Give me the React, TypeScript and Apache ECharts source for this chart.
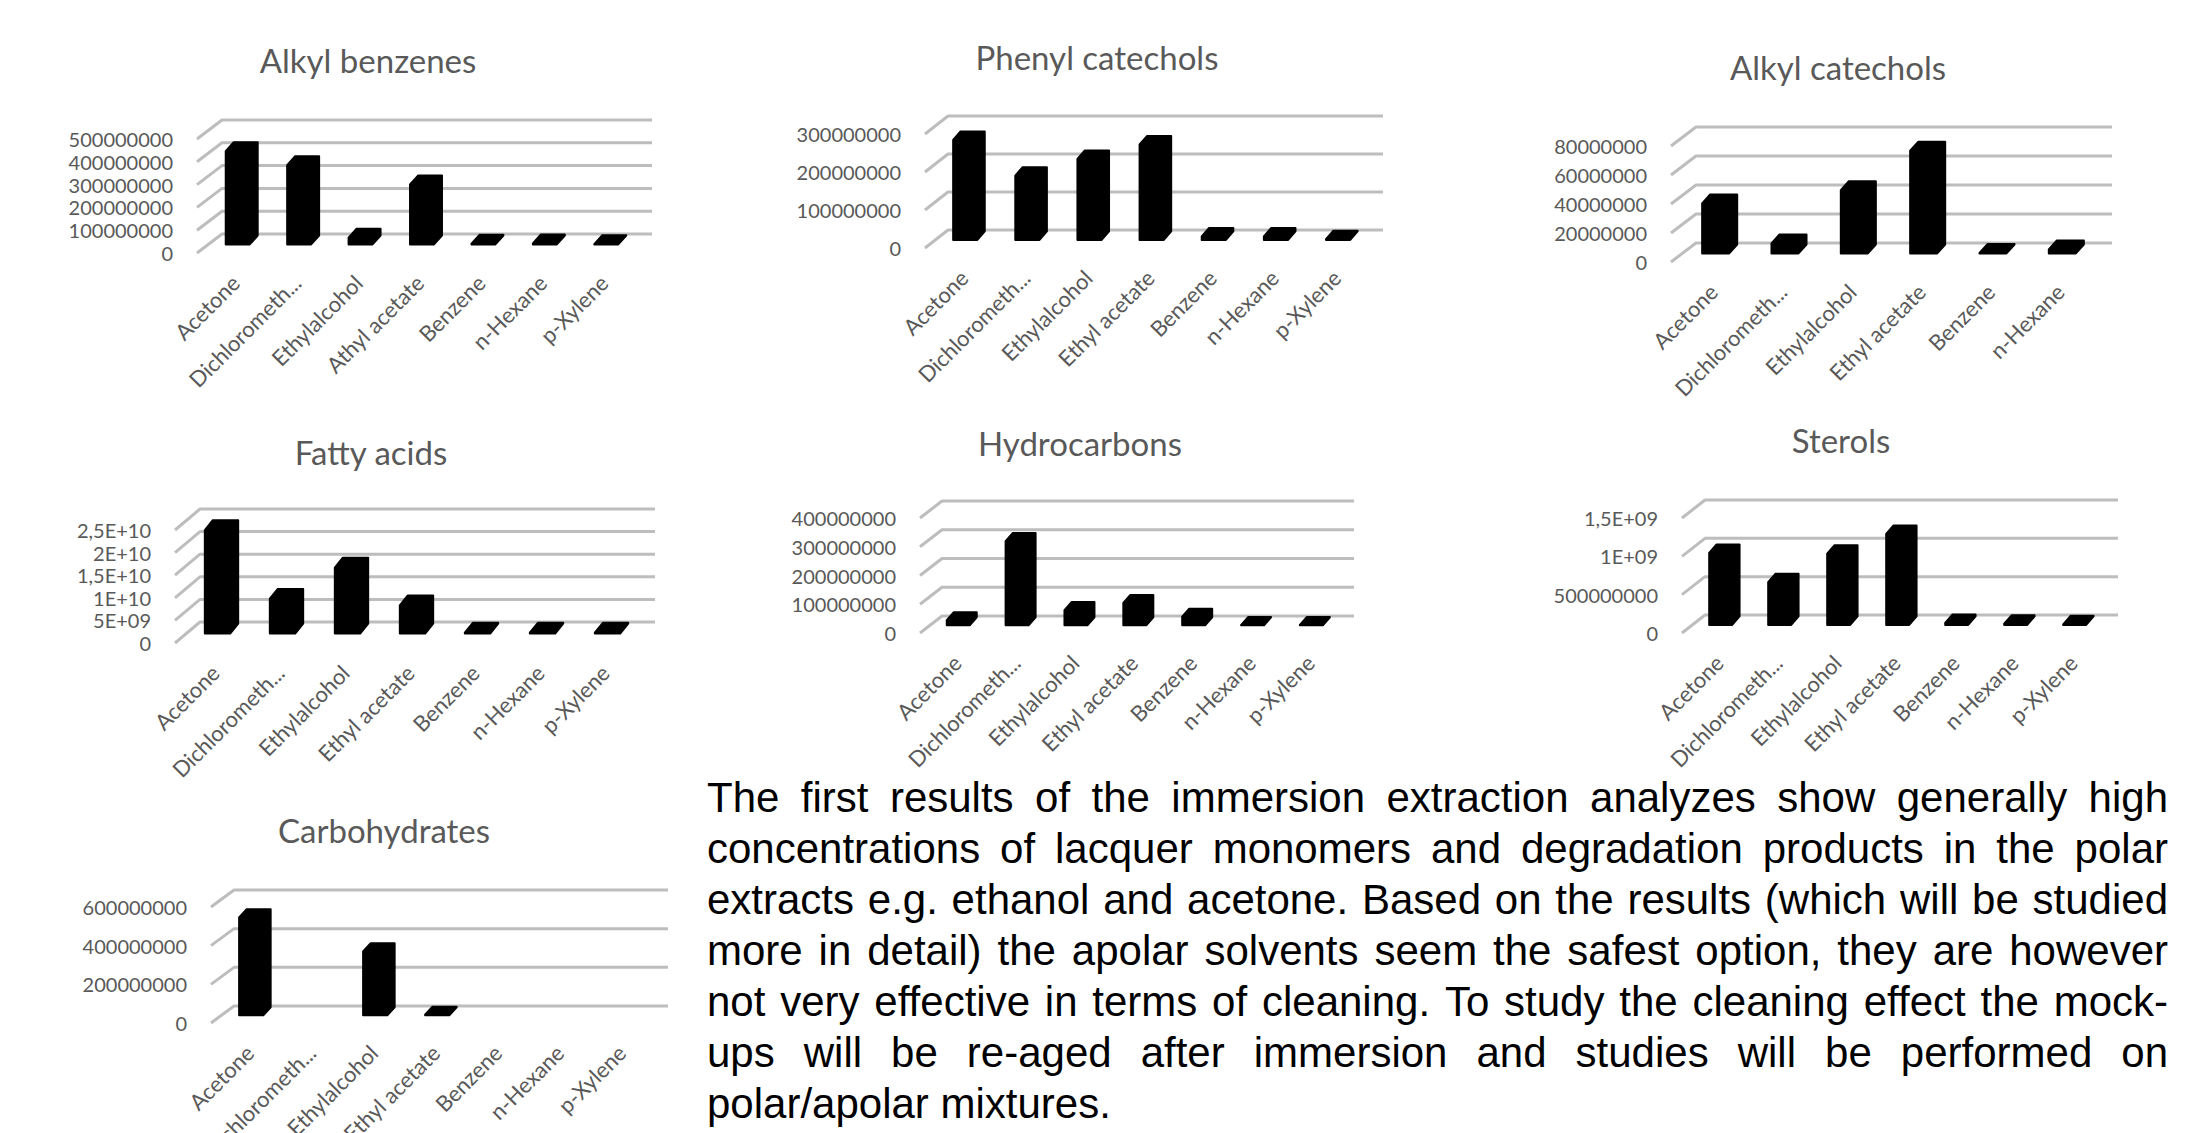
import React, { useEffect, useRef } from "react";
import * as echarts from "echarts";

// Solvent categories as printed under each panel
const solventsAlkylBenzenes = ["Acetone", "Dichlorometh...", "Ethylalcohol", "Athyl acetate", "Benzene", "n-Hexane", "p-Xylene"];
const solvents = ["Acetone", "Dichlorometh...", "Ethylalcohol", "Ethyl acetate", "Benzene", "n-Hexane", "p-Xylene"];
const solventsAlkylCatechols = ["Acetone", "Dichlorometh...", "Ethylalcohol", "Ethyl acetate", "Benzene", "n-Hexane"];

// Peak areas per compound class and solvent
const alkylBenzenes = [409e6, 348e6, 30e6, 263e6, 3e6, 5e6, 1e6];
const phenylCatechols = [263e6, 169e6, 213e6, 251e6, 9e6, 9e6, 2e6];
const alkylCatechols = [34.5e6, 6.9e6, 43.7e6, 70.8e6, 0.3e6, 2.8e6];
const fattyAcids = [2.29e10, 7.7e9, 1.46e10, 6.25e9, 2e8, 2e8, 2e8];
const hydrocarbons = [18e6, 293e6, 53e6, 78e6, 30e6, 1e6, 1.5e6];
const sterols = [939e6, 557e6, 930e6, 1187e6, 25e6, 15e6, 8e6];
const carbohydrates = [507e6, 0, 331e6, 3e6, 0, 0, 0];

// Value-axis tick labels
const ticksAlkylBenzenes = ["0", "100000000", "200000000", "300000000", "400000000", "500000000"];
const ticksPhenylCatechols = ["0", "100000000", "200000000", "300000000"];
const ticksAlkylCatechols = ["0", "20000000", "40000000", "60000000", "80000000"];
const ticksFattyAcids = ["0", "5E+09", "1E+10", "1,5E+10", "2E+10", "2,5E+10"];
const ticksHydrocarbons = ["0", "100000000", "200000000", "300000000", "400000000"];
const ticksSterols = ["0", "500000000", "1E+09", "1,5E+09"];
const ticksCarbohydrates = ["0", "200000000", "400000000", "600000000"];

// Accompanying paragraph, one entry per printed line
const paragraphLines = [
  "The first results of the immersion extraction analyzes show generally high",
  "concentrations of lacquer monomers and degradation products in the polar",
  "extracts e.g. ethanol and acetone. Based on the results (which will be studied",
  "more in detail) the apolar solvents seem the safest option, they are however",
  "not very effective in terms of cleaning. To study the cleaning effect the mock-",
  "ups will be re-aged after immersion and studies will be performed on",
  "polar/apolar mixtures.",
];

type Panel = {
  title: string;
  categories: string[];
  values: number[];
  ticks: string[];
  interval: number;
};

const panels: Panel[] = [
  { title: "Alkyl benzenes", categories: solventsAlkylBenzenes, values: alkylBenzenes, ticks: ticksAlkylBenzenes, interval: 1e8 },
  { title: "Phenyl catechols", categories: solvents, values: phenylCatechols, ticks: ticksPhenylCatechols, interval: 1e8 },
  { title: "Alkyl catechols", categories: solventsAlkylCatechols, values: alkylCatechols, ticks: ticksAlkylCatechols, interval: 2e7 },
  { title: "Fatty acids", categories: solvents, values: fattyAcids, ticks: ticksFattyAcids, interval: 5e9 },
  { title: "Hydrocarbons", categories: solvents, values: hydrocarbons, ticks: ticksHydrocarbons, interval: 1e8 },
  { title: "Sterols", categories: solvents, values: sterols, ticks: ticksSterols, interval: 5e8 },
  { title: "Carbohydrates", categories: solvents, values: carbohydrates, ticks: ticksCarbohydrates, interval: 2e8 },
];

// Front plane of each pseudo-3D plot (pixels), wall depth offset and title anchor
const frames = [
  { left: 197, right: 627, y0: 253, yTop: 139, dx: 25, dy: 19, tx: 368, ty: 60 },
  { left: 925, right: 1360, y0: 248, yTop: 134, dx: 23, dy: 18, tx: 1097, ty: 57 },
  { left: 1671, right: 2087, y0: 262, yTop: 146, dx: 25, dy: 19, tx: 1838, ty: 67 },
  { left: 175, right: 630, y0: 643, yTop: 530, dx: 25, dy: 21, tx: 371, ty: 452 },
  { left: 920, right: 1332, y0: 633, yTop: 518, dx: 22, dy: 17, tx: 1080, ty: 443 },
  { left: 1682, right: 2095, y0: 633, yTop: 518, dx: 23, dy: 18, tx: 1841, ty: 440 },
  { left: 211, right: 645, y0: 1023, yTop: 907, dx: 23, dy: 17, tx: 384, ty: 830 },
];

const LABEL_COLOR = "#595959";
const GRID_COLOR = "#bdbdbd";
const AXIS_FONT = "Lato, 'Noto Sans', sans-serif";
const PARA_FONT = "'Liberation Sans', Arial, sans-serif";
const PARA_SIZE = 42;
const PARA_LEFT = 707;
const PARA_RIGHT = 2168;
const PARA_TOP = 797;
const PARA_LEADING = 51.1;

// Depth fractions of a column inside the floor (front face, back face)
const FX1 = 0.4, FX2 = 0.72, FY1 = 0.45, FY2 = 0.92;
const BAR_FRACTION = 0.39;

function paragraphElements() {
  const canvas = document.createElement("canvas");
  const ctx = canvas.getContext("2d")!;
  ctx.font = `${PARA_SIZE}px ${PARA_FONT}`;
  const width = PARA_RIGHT - PARA_LEFT;
  const els: any[] = [];
  paragraphLines.forEach((line, li) => {
    const words = line.split(" ");
    const widths = words.map((w) => ctx.measureText(w).width);
    const total = widths.reduce((a, b) => a + b, 0);
    const last = li === paragraphLines.length - 1;
    const space = ctx.measureText(" ").width;
    const gap = last || words.length < 2 ? space : (width - total) / (words.length - 1);
    let x = PARA_LEFT;
    const y = PARA_TOP + li * PARA_LEADING;
    words.forEach((w, wi) => {
      els.push({
        type: "text",
        x,
        y,
        silent: true,
        style: {
          text: w,
          fontFamily: PARA_FONT,
          fontSize: PARA_SIZE,
          fill: "#000",
          align: "left",
          verticalAlign: "middle",
        },
      });
      x += widths[wi] + gap;
    });
  });
  return els;
}

function buildOption() {
  const grid: any[] = [];
  const xAxis: any[] = [];
  const yAxis: any[] = [];
  const series: any[] = [];
  const graphic: any[] = [];

  panels.forEach((p, i) => {
    const f = frames[i];
    const max = p.interval * (p.ticks.length - 1);
    grid.push({
      left: f.left,
      top: f.yTop,
      width: f.right - f.left,
      height: f.y0 - f.yTop,
      containLabel: false,
      outerBoundsMode: "none",
    });
    xAxis.push({
      type: "category",
      gridIndex: i,
      data: p.categories,
      axisLine: { show: false },
      axisTick: { show: false },
      splitLine: { show: false },
      axisLabel: {
        interval: 0,
        rotate: 45,
        margin: 18,
        verticalAlign: "top",
        color: LABEL_COLOR,
        fontFamily: AXIS_FONT,
        fontSize: 22,
      },
    });
    yAxis.push({
      type: "value",
      gridIndex: i,
      min: 0,
      max,
      interval: p.interval,
      axisLine: { show: false },
      axisTick: { show: false },
      splitLine: { show: false },
      axisLabel: {
        margin: 24,
        color: LABEL_COLOR,
        fontFamily: AXIS_FONT,
        fontSize: 20,
        formatter: (v: number) => p.ticks[Math.round(v / p.interval)] ?? "",
      },
    });

    // Side-wall and back-wall gridlines, one per tick value
    series.push({
      type: "custom",
      xAxisIndex: i,
      yAxisIndex: i,
      silent: true,
      clip: false,
      z: 1,
      data: p.ticks.map((_, k) => [0, k * p.interval]),
      renderItem: (params: any, api: any) => {
        const cs = params.coordSys;
        const y = api.coord([0, api.value(1)])[1];
        const x0 = cs.x;
        const x1 = cs.x + cs.width;
        return {
          type: "polyline",
          shape: { points: [[x0, y], [x0 + f.dx, y - f.dy], [x1 + f.dx, y - f.dy]] },
          style: { stroke: GRID_COLOR, lineWidth: 3, fill: null, lineJoin: "round" },
        };
      },
    });

    // Solid black columns with a visible top and right side
    series.push({
      type: "custom",
      xAxisIndex: i,
      yAxisIndex: i,
      silent: true,
      clip: false,
      z: 2,
      data: p.values.map((v, k) => [k, v]),
      renderItem: (params: any, api: any) => {
        const v = api.value(1);
        if (!(v > 0)) return { type: "group", children: [] };
        const idx = api.value(0);
        const base = api.coord([idx, 0]);
        const top = api.coord([idx, v]);
        const band = api.size([1, 0])[0];
        const w = band * BAR_FRACTION;
        const xl = base[0] - w / 2;
        const xr = base[0] + w / 2;
        const ax1 = FX1 * f.dx, ax2 = FX2 * f.dx;
        const ay1 = FY1 * f.dy, ay2 = FY2 * f.dy;
        const pts = [
          [xl + ax1, base[1] - ay1],
          [xl + ax1, top[1] - ay1],
          [xl + ax2, top[1] - ay2],
          [xr + ax2, top[1] - ay2],
          [xr + ax2, base[1] - ay2],
          [xr + ax1, base[1] - ay1],
        ];
        return {
          type: "polygon",
          shape: { points: pts },
          style: { fill: "#000", stroke: "#000", lineWidth: 2, lineJoin: "round" },
        };
      },
    });

    graphic.push({
      type: "text",
      x: f.tx,
      y: f.ty,
      silent: true,
      style: {
        text: p.title,
        fontFamily: AXIS_FONT,
        fontSize: 33,
        fill: LABEL_COLOR,
        align: "center",
        verticalAlign: "middle",
      },
    });
  });

  return {
    animation: false,
    backgroundColor: "#ffffff",
    grid,
    xAxis,
    yAxis,
    series,
    graphic: [...graphic, ...paragraphElements()],
  };
}

export default function App() {
  const ref = useRef<HTMLDivElement>(null);
  useEffect(() => {
    document.body.style.margin = "0";
    const chart = echarts.init(ref.current!, null, { renderer: "svg" });
    chart.setOption(buildOption() as any);
    return () => chart.dispose();
  }, []);
  return <div ref={ref} style={{ width: 2199, height: 1133 }} />;
}
